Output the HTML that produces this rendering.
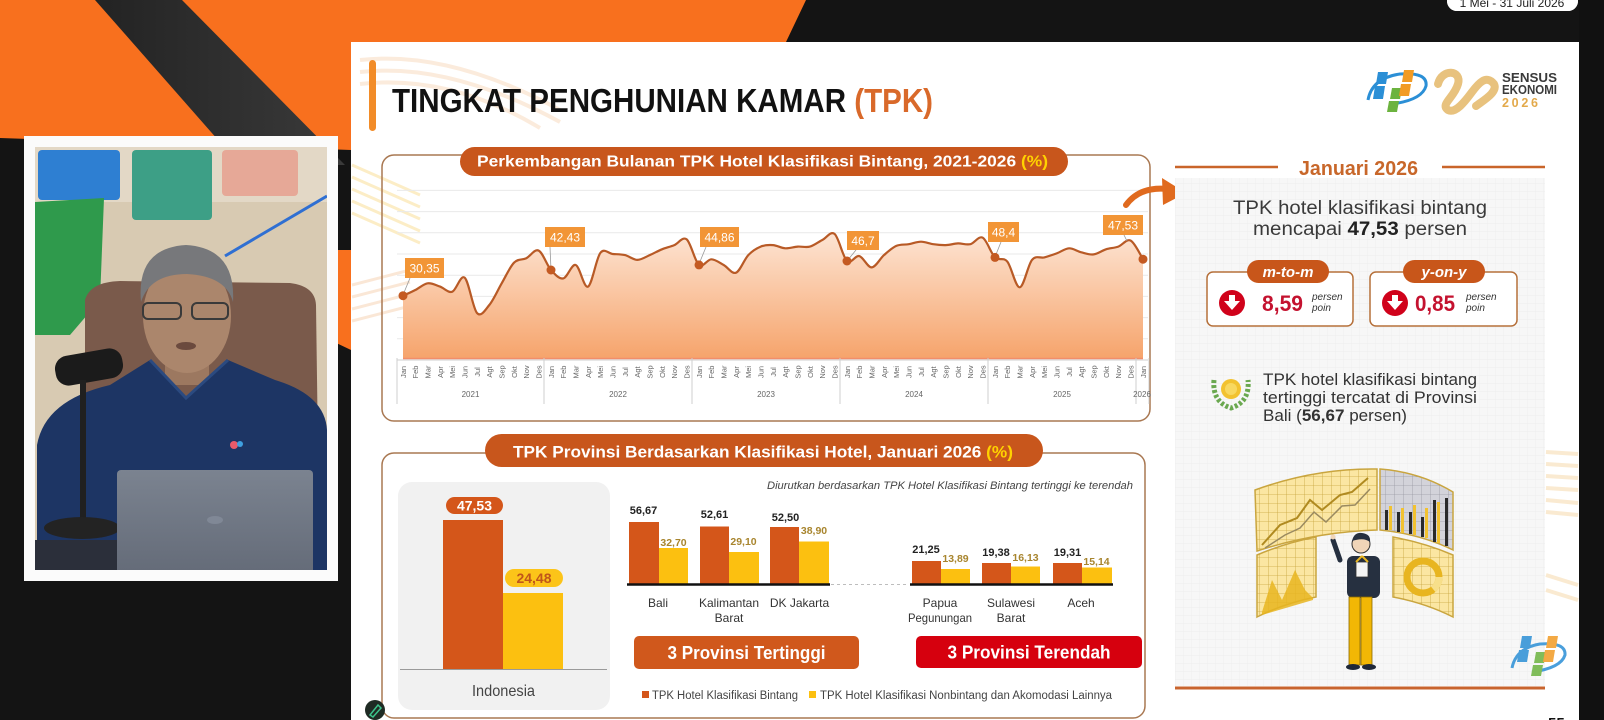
<!DOCTYPE html>
<html><head><meta charset="utf-8">
<style>
html,body{margin:0;padding:0;width:1604px;height:720px;overflow:hidden;background:#141414;}
svg{display:block;font-family:"Liberation Sans",Arial,sans-serif;}
</style></head><body>
<svg width="1604" height="720" viewBox="0 0 1604 720" xmlns="http://www.w3.org/2000/svg">
<defs>
 <linearGradient id="area" gradientUnits="userSpaceOnUse" x1="0" y1="230" x2="0" y2="360">
  <stop offset="0" stop-color="#fde6d6"/><stop offset="1" stop-color="#f6a36a"/>
 </linearGradient>
 <linearGradient id="band" x1="0" y1="0" x2="1" y2="0">
  <stop offset="0" stop-color="#232323"/><stop offset="1" stop-color="#3a3a3a"/>
 </linearGradient>
 <linearGradient id="lap" x1="0" y1="0" x2="0" y2="1">
  <stop offset="0" stop-color="#7b8390"/><stop offset="1" stop-color="#646b78"/>
 </linearGradient>
 <pattern id="grid" width="8" height="8" patternUnits="userSpaceOnUse">
  <rect width="8" height="8" fill="#f7f7f7"/><path d="M8 0V8H0" fill="none" stroke="#ececec" stroke-width="0.7"/>
 </pattern>
 <pattern id="ygrid" width="9" height="9" patternUnits="userSpaceOnUse">
  <rect width="9" height="9" fill="#fbe6a2"/><path d="M9 0V9H0" fill="none" stroke="#c9a53f" stroke-width="0.8"/>
 </pattern>
 <pattern id="ggrid" width="9" height="9" patternUnits="userSpaceOnUse">
  <rect width="9" height="9" fill="#d3d3da"/><path d="M9 0V9H0" fill="none" stroke="#9a9aa5" stroke-width="0.8"/>
 </pattern>
 <clipPath id="cam"><rect x="35" y="147" width="292" height="423"/></clipPath>
</defs>

<!-- background -->
<rect width="1604" height="720" fill="#141414"/>
<polygon points="0,0 806,0 786,42 351,42 351,150 0,138" fill="#f8701e"/>
<polygon points="95,0 182,0 345,165 240,165" fill="url(#band)"/>
<polygon points="330,250 351,250 351,350 330,340" fill="#f8701e"/>

<!-- top right date pill -->
<rect x="1447" y="-10" width="131" height="21" rx="10" fill="#ffffff"/>
<text x="1512" y="7" font-size="12" text-anchor="middle" fill="#222">1 Mei - 31 Juli 2026</text>

<!-- webcam -->
<rect x="24" y="136" width="314" height="445" fill="#fbfbfb"/>
<g clip-path="url(#cam)">
 <rect x="35" y="147" width="292" height="423" fill="#d8cab2"/>
 <rect x="35" y="147" width="292" height="55" fill="#e3d8c6"/>
 <rect x="38" y="150" width="82" height="50" rx="4" fill="#2e7fd2"/>
 <rect x="132" y="150" width="80" height="70" rx="4" fill="#3d9f86"/>
 <rect x="222" y="150" width="76" height="46" rx="4" fill="#e6a897"/>
 <polygon points="35,202 104,198 100,300 70,335 35,335" fill="#2f9a4c"/>
 <line x1="225" y1="256" x2="327" y2="196" stroke="#2f6fd2" stroke-width="3"/>
 <path d="M85,300 Q90,282 120,281 L290,283 Q315,286 316,305 L318,450 L85,450 Z" fill="#7a5a4b"/>
 <rect x="165" y="345" width="44" height="40" fill="#9c7860"/>
 <ellipse cx="187" cy="316" rx="44" ry="57" fill="#ab866c"/>
 <path d="M141,302 Q136,248 186,245 Q236,248 233,302 Q226,276 187,274 Q150,274 141,302 Z" fill="#77787b"/>
 <rect x="143" y="303" width="38" height="16" rx="5" fill="none" stroke="#3a3a3a" stroke-width="2"/>
 <rect x="192" y="303" width="36" height="16" rx="5" fill="none" stroke="#3a3a3a" stroke-width="2"/>
 <ellipse cx="186" cy="346" rx="10" ry="4" fill="#6b4a3e"/>
 <path d="M37,445 Q45,400 110,385 L150,360 L186,398 L228,360 L275,380 Q325,395 327,430 L327,570 L37,570 Z" fill="#1d3564"/>
 <path d="M150,360 L186,398 L228,360" fill="none" stroke="#2b4a80" stroke-width="3"/>
 <rect x="55" y="352" width="68" height="30" rx="13" fill="#1b1b1b" transform="rotate(-10 89 367)"/>
 <rect x="80" y="380" width="6" height="145" fill="#202020"/>
 <ellipse cx="82" cy="528" rx="38" ry="11" fill="#232323"/>
 <rect x="35" y="540" width="82" height="30" fill="#2b2f3a"/>
 <rect x="117" y="470" width="196" height="105" rx="4" fill="url(#lap)"/>
 <ellipse cx="215" cy="520" rx="8" ry="4" fill="#808896"/>
 <circle cx="234" cy="445" r="4" fill="#e85a6a"/><circle cx="240" cy="444" r="3" fill="#3fa0e0"/>
</g>

<!-- slide -->
<rect x="351" y="42" width="1228" height="678" fill="#ffffff"/>

<!-- faint decorations -->
<g fill="none" stroke="#f9dcc0" stroke-width="4" opacity="0.55">
 <path d="M360,60 Q450,50 560,110"/><path d="M360,72 Q450,62 560,122"/><path d="M360,84 Q450,74 540,128"/>
</g>
<g stroke="#fbe6ae" stroke-width="3" opacity="0.7">
 <line x1="352" y1="165" x2="420" y2="195"/><line x1="352" y1="177" x2="420" y2="207"/><line x1="352" y1="189" x2="420" y2="219"/>
 <line x1="352" y1="201" x2="420" y2="231"/><line x1="352" y1="213" x2="420" y2="243"/>
</g>
<g stroke="#f9ddc6" stroke-width="3" opacity="0.7">
 <line x1="352" y1="285" x2="410" y2="270"/><line x1="352" y1="297" x2="410" y2="282"/><line x1="352" y1="309" x2="410" y2="294"/>
 <line x1="352" y1="321" x2="410" y2="306"/>
</g>
<g stroke="#fae6c6" stroke-width="4" opacity="0.8">
 <line x1="1546" y1="452" x2="1578" y2="454"/><line x1="1546" y1="464" x2="1578" y2="466"/><line x1="1546" y1="476" x2="1578" y2="478"/>
 <line x1="1546" y1="488" x2="1578" y2="490"/><line x1="1546" y1="500" x2="1578" y2="503"/><line x1="1546" y1="512" x2="1578" y2="515"/>
 <line x1="1546" y1="575" x2="1578" y2="585"/><line x1="1546" y1="590" x2="1578" y2="600"/>
</g>

<!-- title -->
<rect x="369" y="60" width="7" height="71" rx="3.5" fill="#f28c28"/>
<text x="392" y="112" font-size="33" font-weight="bold" textLength="541" lengthAdjust="spacingAndGlyphs" fill="#111">TINGKAT PENGHUNIAN KAMAR <tspan fill="#d9692a">(TPK)</tspan></text>

<!-- top logos -->
<g>
 <path d="M1368,100 Q1372,78 1400,74 Q1428,72 1426,86 Q1422,100 1392,104" fill="none" stroke="#2b8fd6" stroke-width="3"/>
 <polygon points="1378,72 1388,72 1386,84 1376,84" fill="#2b8fd6"/>
 <polygon points="1375,86 1385,86 1383,99 1373,99" fill="#2b8fd6"/>
 <polygon points="1392,88 1402,88 1400,99 1390,99" fill="#6cb33f"/>
 <polygon points="1389,101 1399,101 1397,112 1387,112" fill="#6cb33f"/>
 <polygon points="1404,70 1414,70 1412,82 1402,82" fill="#f29b24"/>
 <polygon points="1401,84 1411,84 1409,96 1399,96" fill="#f29b24"/>
</g>
<path d="M1438,84 C1442,68 1462,70 1458,84 C1454,98 1440,104 1448,110 C1456,114 1466,100 1472,92 C1478,84 1486,74 1494,84 C1498,92 1484,100 1476,106" fill="none" stroke="#e8c27e" stroke-width="8" stroke-linecap="round"/>
<text x="1502" y="82" font-size="12.5" font-weight="bold" fill="#3a3a3a" textLength="55" lengthAdjust="spacingAndGlyphs">SENSUS</text>
<text x="1502" y="94" font-size="12.5" font-weight="bold" fill="#3a3a3a" textLength="55" lengthAdjust="spacingAndGlyphs">EKONOMI</text>
<text x="1502" y="107" font-size="12.5" font-weight="bold" fill="#e3a94a" textLength="36" lengthAdjust="spacing">2026</text>

<!-- ========== chart 1 ========== -->
<rect x="382" y="155" width="768" height="266" rx="12" fill="none" stroke="#a97852" stroke-width="1.5"/>
<g stroke="#e9e9e9" stroke-width="1">
 <line x1="397" y1="190.4" x2="1148" y2="190.4"/><line x1="397" y1="211.6" x2="1148" y2="211.6"/>
 <line x1="397" y1="232.8" x2="1148" y2="232.8"/><line x1="397" y1="254" x2="1148" y2="254"/>
 <line x1="397" y1="275.2" x2="1148" y2="275.2"/><line x1="397" y1="296.4" x2="1148" y2="296.4"/>
 <line x1="397" y1="317.6" x2="1148" y2="317.6"/><line x1="397" y1="338.8" x2="1148" y2="338.8"/>
</g>
<path id="areaPath" fill="url(#area)" d="M403,295.7 L415.3,290 L427.7,283.3 L440,286.6 L452.3,291.7 L464.7,277.7 L477,313 L489.3,305 L501.7,283.3 L514,262.7 L526.3,258.2 L538.7,250.6 L551,270 L563.3,278.4 L575.7,265 L588,286.6 L600.3,253 L612.7,254 L625,255.1 L637.3,259.9 L649.7,255.1 L662,249.3 L674.3,245.1 L686.7,239.4 L699,264.9 L711.3,259.3 L723.7,265 L736,272.7 L748.3,255.1 L760.7,246.6 L773,245.1 L785.3,248.3 L797.7,246.6 L810,246.6 L822.3,240 L834.7,234.1 L847,261 L859.3,256.1 L871.7,267.4 L884,255.1 L896.3,245.9 L908.7,244.2 L921,241.7 L933.3,244.2 L945.7,245.1 L958,243.4 L970.3,244.2 L982.7,237.7 L995,257.4 L1007.3,261.6 L1019.7,287.3 L1032,259.9 L1044.3,257.4 L1056.7,253.4 L1069,248.3 L1081.3,252.3 L1093.7,254.4 L1106,249.3 L1118.3,246.6 L1130.7,240.6 L1143,259.2 L1143,359 L403,359 Z"/>
<line x1="403" y1="358.5" x2="1143" y2="358.5" stroke="#f28e6a" stroke-width="1.5"/>
<path id="linePath" fill="none" stroke="#b85a26" stroke-width="2.2" stroke-linejoin="round" d="M403,295.7 L415.3,290 L427.7,283.3 L440,286.6 L452.3,291.7 L464.7,277.7 L477,313 L489.3,305 L501.7,283.3 L514,262.7 L526.3,258.2 L538.7,250.6 L551,270 L563.3,278.4 L575.7,265 L588,286.6 L600.3,253 L612.7,254 L625,255.1 L637.3,259.9 L649.7,255.1 L662,249.3 L674.3,245.1 L686.7,239.4 L699,264.9 L711.3,259.3 L723.7,265 L736,272.7 L748.3,255.1 L760.7,246.6 L773,245.1 L785.3,248.3 L797.7,246.6 L810,246.6 L822.3,240 L834.7,234.1 L847,261 L859.3,256.1 L871.7,267.4 L884,255.1 L896.3,245.9 L908.7,244.2 L921,241.7 L933.3,244.2 L945.7,245.1 L958,243.4 L970.3,244.2 L982.7,237.7 L995,257.4 L1007.3,261.6 L1019.7,287.3 L1032,259.9 L1044.3,257.4 L1056.7,253.4 L1069,248.3 L1081.3,252.3 L1093.7,254.4 L1106,249.3 L1118.3,246.6 L1130.7,240.6 L1143,259.2"/>

<!-- axis -->
<line x1="397" y1="360" x2="1148" y2="360" stroke="#cfcfcf" stroke-width="1"/>
<g stroke="#cfcfcf" stroke-width="1">
 <line x1="397" y1="358" x2="397" y2="404"/><line x1="544" y1="358" x2="544" y2="404"/>
 <line x1="692" y1="358" x2="692" y2="404"/><line x1="840" y1="358" x2="840" y2="404"/>
 <line x1="988" y1="358" x2="988" y2="404"/><line x1="1136" y1="358" x2="1136" y2="404"/>
 <line x1="1149" y1="358" x2="1149" y2="404"/>
</g>
<g font-size="7.5" fill="#666" text-anchor="middle">
<text transform="translate(405.8,372) rotate(-90)">Jan</text><text transform="translate(418.1,372) rotate(-90)">Feb</text><text transform="translate(430.5,372) rotate(-90)">Mar</text><text transform="translate(442.8,372) rotate(-90)">Apr</text><text transform="translate(455.1,372) rotate(-90)">Mei</text><text transform="translate(467.5,372) rotate(-90)">Jun</text><text transform="translate(479.8,372) rotate(-90)">Jul</text><text transform="translate(492.1,372) rotate(-90)">Agt</text><text transform="translate(504.5,372) rotate(-90)">Sep</text><text transform="translate(516.8,372) rotate(-90)">Okt</text><text transform="translate(529.1,372) rotate(-90)">Nov</text><text transform="translate(541.5,372) rotate(-90)">Des</text>
<text transform="translate(553.8,372) rotate(-90)">Jan</text><text transform="translate(566.1,372) rotate(-90)">Feb</text><text transform="translate(578.5,372) rotate(-90)">Mar</text><text transform="translate(590.8,372) rotate(-90)">Apr</text><text transform="translate(603.1,372) rotate(-90)">Mei</text><text transform="translate(615.5,372) rotate(-90)">Jun</text><text transform="translate(627.8,372) rotate(-90)">Jul</text><text transform="translate(640.1,372) rotate(-90)">Agt</text><text transform="translate(652.5,372) rotate(-90)">Sep</text><text transform="translate(664.8,372) rotate(-90)">Okt</text><text transform="translate(677.1,372) rotate(-90)">Nov</text><text transform="translate(689.5,372) rotate(-90)">Des</text>
<text transform="translate(701.8,372) rotate(-90)">Jan</text><text transform="translate(714.1,372) rotate(-90)">Feb</text><text transform="translate(726.5,372) rotate(-90)">Mar</text><text transform="translate(738.8,372) rotate(-90)">Apr</text><text transform="translate(751.1,372) rotate(-90)">Mei</text><text transform="translate(763.5,372) rotate(-90)">Jun</text><text transform="translate(775.8,372) rotate(-90)">Jul</text><text transform="translate(788.1,372) rotate(-90)">Agt</text><text transform="translate(800.5,372) rotate(-90)">Sep</text><text transform="translate(812.8,372) rotate(-90)">Okt</text><text transform="translate(825.1,372) rotate(-90)">Nov</text><text transform="translate(837.5,372) rotate(-90)">Des</text>
<text transform="translate(849.8,372) rotate(-90)">Jan</text><text transform="translate(862.1,372) rotate(-90)">Feb</text><text transform="translate(874.5,372) rotate(-90)">Mar</text><text transform="translate(886.8,372) rotate(-90)">Apr</text><text transform="translate(899.1,372) rotate(-90)">Mei</text><text transform="translate(911.5,372) rotate(-90)">Jun</text><text transform="translate(923.8,372) rotate(-90)">Jul</text><text transform="translate(936.1,372) rotate(-90)">Agt</text><text transform="translate(948.5,372) rotate(-90)">Sep</text><text transform="translate(960.8,372) rotate(-90)">Okt</text><text transform="translate(973.1,372) rotate(-90)">Nov</text><text transform="translate(985.5,372) rotate(-90)">Des</text>
<text transform="translate(997.8,372) rotate(-90)">Jan</text><text transform="translate(1010.1,372) rotate(-90)">Feb</text><text transform="translate(1022.5,372) rotate(-90)">Mar</text><text transform="translate(1034.8,372) rotate(-90)">Apr</text><text transform="translate(1047.1,372) rotate(-90)">Mei</text><text transform="translate(1059.5,372) rotate(-90)">Jun</text><text transform="translate(1071.8,372) rotate(-90)">Jul</text><text transform="translate(1084.1,372) rotate(-90)">Agt</text><text transform="translate(1096.5,372) rotate(-90)">Sep</text><text transform="translate(1108.8,372) rotate(-90)">Okt</text><text transform="translate(1121.1,372) rotate(-90)">Nov</text><text transform="translate(1133.5,372) rotate(-90)">Des</text>
<text transform="translate(1145.8,372) rotate(-90)">Jan</text>
</g>
<g font-size="8" fill="#666" text-anchor="middle">
 <text x="470.5" y="397">2021</text><text x="618" y="397">2022</text><text x="766" y="397">2023</text>
 <text x="914" y="397">2024</text><text x="1062" y="397">2025</text><text x="1142" y="397">2026</text>
</g>

<!-- leaders & markers -->
<g stroke="#9a9a9a" stroke-width="0.8">
 <line x1="410" y1="278" x2="403" y2="295"/><line x1="550" y1="247" x2="551" y2="270"/>
 <line x1="706" y1="247" x2="699" y2="264"/><line x1="856" y1="250" x2="847" y2="261"/>
 <line x1="1001" y1="242" x2="995" y2="257"/><line x1="1124" y1="235" x2="1127" y2="241"/>
</g>
<g fill="#c45a22">
 <circle cx="403" cy="295.7" r="4.5"/><circle cx="551" cy="270" r="4.5"/><circle cx="699" cy="264.9" r="4.5"/>
 <circle cx="847" cy="261" r="4.5"/><circle cx="995" cy="257.4" r="4.5"/><circle cx="1143" cy="259.2" r="4.5"/>
</g>
<g fill="#f29536">
 <rect x="405" y="258" width="39" height="20"/><rect x="545" y="227" width="40" height="20"/>
 <rect x="700" y="227" width="39" height="20"/><rect x="847" y="231" width="32" height="19"/>
 <rect x="988" y="222" width="31" height="20"/><rect x="1103" y="215" width="40" height="20"/>
</g>
<g font-size="12" fill="#fff" text-anchor="middle">
 <text x="424.5" y="272.5">30,35</text><text x="565" y="241.5">42,43</text><text x="719.5" y="241.5">44,86</text>
 <text x="863" y="245">46,7</text><text x="1003.5" y="236.5">48,4</text><text x="1123" y="229.5">47,53</text>
</g>

<!-- pill 1 -->
<rect x="460" y="147" width="608" height="29" rx="14.5" fill="#c8561c"/>
<text x="477" y="166.5" font-size="16" font-weight="bold" fill="#fff" textLength="571" lengthAdjust="spacingAndGlyphs">Perkembangan Bulanan TPK Hotel Klasifikasi Bintang, 2021-2026 <tspan fill="#ffd200">(%)</tspan></text>

<!-- arrow -->
<path d="M1126,205 Q1140,186 1168,189" fill="none" stroke="#e06a1e" stroke-width="6" stroke-linecap="round"/>
<polygon points="1162,178 1186,193 1163,205" fill="#e06a1e"/>

<!-- ========== chart 2 ========== -->
<rect x="382" y="453" width="763" height="265" rx="12" fill="none" stroke="#a97852" stroke-width="1.5"/>
<rect x="485" y="434" width="558" height="33" rx="16.5" fill="#c8561c"/>
<text x="513" y="457.5" font-size="17" font-weight="bold" fill="#fff" textLength="500" lengthAdjust="spacingAndGlyphs">TPK Provinsi Berdasarkan Klasifikasi Hotel, Januari 2026 <tspan fill="#ffd200">(%)</tspan></text>

<!-- Indonesia panel -->
<rect x="398" y="482" width="212" height="228" rx="14" fill="#f1f1f1"/>
<rect x="443" y="520" width="60" height="149" fill="#d4561a"/>
<rect x="503" y="593" width="60" height="76" fill="#fcc010"/>
<line x1="400" y1="669.5" x2="607" y2="669.5" stroke="#9a9a9a" stroke-width="1"/>
<rect x="446" y="497" width="57" height="17" rx="8.5" fill="#d4561a"/>
<text x="474.5" y="510.5" font-size="14" font-weight="bold" fill="#fff" text-anchor="middle">47,53</text>
<rect x="505" y="569" width="58" height="18" rx="9" fill="#fcc419"/>
<text x="534" y="583" font-size="14" font-weight="bold" fill="#c0561a" text-anchor="middle">24,48</text>
<text x="503.5" y="696" font-size="16" fill="#444" text-anchor="middle" textLength="63" lengthAdjust="spacingAndGlyphs">Indonesia</text>

<text x="767" y="489" font-size="11" font-style="italic" fill="#444" textLength="366" lengthAdjust="spacingAndGlyphs">Diurutkan berdasarkan TPK Hotel Klasifikasi Bintang tertinggi ke terendah</text>

<!-- top provinces -->
<g fill="#d4561a">
 <rect x="629" y="522" width="30" height="62"/><rect x="700" y="526.5" width="29" height="57.5"/><rect x="770" y="527" width="29" height="57"/>
 <rect x="912" y="561" width="29" height="23"/><rect x="982" y="563" width="29" height="21"/><rect x="1053" y="563" width="29" height="21"/>
</g>
<g fill="#fcc010">
 <rect x="659" y="548" width="29" height="36"/><rect x="729" y="552" width="30" height="32"/><rect x="799" y="541.5" width="30" height="42.5"/>
 <rect x="941" y="569" width="29" height="15"/><rect x="1011" y="566.5" width="29" height="17.5"/><rect x="1082" y="567.5" width="30" height="16.5"/>
</g>
<line x1="627" y1="584.5" x2="830" y2="584.5" stroke="#111" stroke-width="2.5"/>
<line x1="910" y1="584.5" x2="1113" y2="584.5" stroke="#111" stroke-width="2.5"/>
<line x1="831" y1="584.5" x2="909" y2="584.5" stroke="#bdbdbd" stroke-width="1" stroke-dasharray="3,3"/>
<g font-size="11" font-weight="bold" fill="#222" text-anchor="middle">
 <text x="643.5" y="514">56,67</text><text x="714.5" y="518">52,61</text><text x="785.5" y="521">52,50</text>
 <text x="926" y="553">21,25</text><text x="996" y="556">19,38</text><text x="1067.5" y="556">19,31</text>
</g>
<g font-size="10.5" font-weight="bold" fill="#a8852e" text-anchor="middle">
 <text x="673.5" y="546">32,70</text><text x="743.5" y="545">29,10</text><text x="814" y="534">38,90</text>
 <text x="955.5" y="562">13,89</text><text x="1025.5" y="561">16,13</text><text x="1096.5" y="565">15,14</text>
</g>
<g font-size="12" fill="#333" text-anchor="middle">
 <text x="658" y="607">Bali</text>
 <text x="729" y="607">Kalimantan</text><text x="729" y="622">Barat</text>
 <text x="799.5" y="607">DK Jakarta</text>
 <text x="940" y="607">Papua</text><text x="940" y="622" textLength="64" lengthAdjust="spacingAndGlyphs">Pegunungan</text>
 <text x="1011" y="607">Sulawesi</text><text x="1011" y="622">Barat</text>
 <text x="1081" y="607">Aceh</text>
</g>

<rect x="634" y="636" width="225" height="33" rx="5" fill="#d0581c"/>
<text x="746.5" y="659" font-size="18" font-weight="bold" fill="#fff" text-anchor="middle" textLength="158" lengthAdjust="spacingAndGlyphs">3 Provinsi Tertinggi</text>
<rect x="916" y="636" width="226" height="32" rx="5" fill="#d6000e"/>
<text x="1029" y="658.5" font-size="18" font-weight="bold" fill="#fff" text-anchor="middle" textLength="163" lengthAdjust="spacingAndGlyphs">3 Provinsi Terendah</text>

<rect x="642" y="691" width="7" height="7" fill="#d4561a"/>
<text x="652" y="699" font-size="11.5" fill="#444" textLength="146" lengthAdjust="spacingAndGlyphs">TPK Hotel Klasifikasi Bintang</text>
<rect x="809" y="691" width="7" height="7" fill="#fcc010"/>
<text x="820" y="699" font-size="11.5" fill="#444" textLength="292" lengthAdjust="spacingAndGlyphs">TPK Hotel Klasifikasi Nonbintang dan Akomodasi Lainnya</text>

<!-- pencil icon -->
<circle cx="375" cy="710" r="10" fill="#1f2b24"/>
<path d="M370,715 L378,705 L381,708 L373,717 Z" fill="none" stroke="#3cc28a" stroke-width="1.5"/>

<!-- ========== right panel ========== -->
<rect x="1175" y="178" width="370" height="508" fill="url(#grid)"/>
<line x1="1175" y1="167" x2="1278" y2="167" stroke="#c9652a" stroke-width="2.5"/>
<line x1="1442" y1="167" x2="1545" y2="167" stroke="#c9652a" stroke-width="2.5"/>
<text x="1358.5" y="175" font-size="20" font-weight="bold" fill="#c8672a" text-anchor="middle" textLength="119" lengthAdjust="spacingAndGlyphs">Januari 2026</text>
<text x="1360" y="214" font-size="19" fill="#3a3a3a" text-anchor="middle" textLength="254" lengthAdjust="spacingAndGlyphs">TPK hotel klasifikasi bintang</text>
<text x="1360" y="235" font-size="19" fill="#3a3a3a" text-anchor="middle" textLength="214" lengthAdjust="spacingAndGlyphs">mencapai <tspan font-weight="bold" fill="#222">47,53</tspan> persen</text>

<rect x="1207" y="272" width="146" height="54" rx="6" fill="#fff" stroke="#b5703a" stroke-width="1.5"/>
<rect x="1247" y="260" width="82" height="23" rx="11.5" fill="#c8561a"/>
<text x="1288" y="277" font-size="15" font-style="italic" font-weight="bold" fill="#fff" text-anchor="middle">m-to-m</text>
<g transform="translate(1232,303)"><circle r="13" fill="#d0021b"/><path d="M-3,-8 h6 v6 h5 l-8,9 l-8,-9 h5 z" fill="#fff"/></g>
<text x="1262" y="311" font-size="22" font-weight="bold" fill="#c4122f" textLength="41" lengthAdjust="spacingAndGlyphs">8,59</text>
<text x="1312" y="300" font-size="10" font-style="italic" fill="#333">persen</text>
<text x="1312" y="311" font-size="10" font-style="italic" fill="#333">poin</text>

<rect x="1370" y="272" width="147" height="54" rx="6" fill="#fff" stroke="#b5703a" stroke-width="1.5"/>
<rect x="1403" y="260" width="82" height="23" rx="11.5" fill="#c8561a"/>
<text x="1444" y="277" font-size="15" font-style="italic" font-weight="bold" fill="#fff" text-anchor="middle">y-on-y</text>
<g transform="translate(1395,303)"><circle r="13" fill="#d0021b"/><path d="M-3,-8 h6 v6 h5 l-8,9 l-8,-9 h5 z" fill="#fff"/></g>
<text x="1415" y="311" font-size="22" font-weight="bold" fill="#c4122f" textLength="40" lengthAdjust="spacingAndGlyphs">0,85</text>
<text x="1466" y="300" font-size="10" font-style="italic" fill="#333">persen</text>
<text x="1466" y="311" font-size="10" font-style="italic" fill="#333">poin</text>

<!-- medal -->
<path d="M1214,380 Q1212,402 1231,408 Q1250,402 1248,380" fill="none" stroke="#6aa84f" stroke-width="5" stroke-dasharray="3,2"/>
<circle cx="1231" cy="389" r="10" fill="#f2c230"/>
<circle cx="1231" cy="389" r="6" fill="#f8d860"/>
<text x="1263" y="385" font-size="17" fill="#333" textLength="214" lengthAdjust="spacingAndGlyphs">TPK hotel klasifikasi bintang</text>
<text x="1263" y="403" font-size="17" fill="#333" textLength="214" lengthAdjust="spacingAndGlyphs">tertinggi tercatat di Provinsi</text>
<text x="1263" y="421" font-size="17" fill="#333" textLength="144" lengthAdjust="spacingAndGlyphs">Bali (<tspan font-weight="bold">56,67</tspan> persen)</text>

<!-- illustration -->
<path d="M1255,490 Q1315,468 1377,469 L1377,530 Q1315,532 1257,551 Z" fill="url(#ygrid)" stroke="#c9a53f" stroke-width="1.5"/>
<polyline points="1262,545 1280,525 1297,518 1310,500 1322,510 1340,495 1352,492 1368,478" fill="none" stroke="#b08a20" stroke-width="2"/>
<polyline points="1265,548 1285,535 1300,528 1314,512 1326,522 1342,506 1355,505 1370,489" fill="none" stroke="#9a8a60" stroke-width="1.5"/>
<path d="M1380,469 Q1420,472 1453,492 L1453,550 Q1420,534 1380,530 Z" fill="url(#ggrid)" stroke="#c9a53f" stroke-width="1.5"/>
<g fill="#2a2a2a"><rect x="1385" y="510" width="3" height="20"/><rect x="1397" y="512" width="3" height="20"/><rect x="1409" y="512" width="3" height="22"/><rect x="1421" y="517" width="3" height="20"/><rect x="1433" y="500" width="3" height="42"/><rect x="1445" y="498" width="3" height="48"/></g>
<g fill="#f2c230"><rect x="1389" y="506" width="3" height="24"/><rect x="1401" y="508" width="3" height="25"/><rect x="1413" y="505" width="3" height="30"/><rect x="1425" y="508" width="3" height="30"/><rect x="1437" y="502" width="3" height="41"/></g>
<path d="M1257,555 Q1285,543 1316,537 L1316,597 Q1285,603 1257,617 Z" fill="url(#ygrid)" stroke="#c9a53f" stroke-width="1.5"/>
<polygon points="1262,612 1272,580 1282,600 1295,570 1305,590 1313,598 1313,600 1262,615" fill="#e8b520" opacity="0.85"/>
<path d="M1393,537 Q1425,543 1453,555 L1453,617 Q1425,603 1393,597 Z" fill="url(#ygrid)" stroke="#c9a53f" stroke-width="1.5"/>
<circle cx="1423" cy="577" r="16" fill="none" stroke="#e8b520" stroke-width="7"/>
<circle cx="1423" cy="577" r="16" fill="none" stroke="#f7df8a" stroke-width="7" stroke-dasharray="14,100"/>
<!-- person -->
<path d="M1340,560 L1333,540" stroke="#263040" stroke-width="5" stroke-linecap="round"/>
<circle cx="1333" cy="537" r="2.5" fill="#f0d5b8"/>
<rect x="1347" y="556" width="33" height="42" rx="6" fill="#263040"/>
<rect x="1356" y="562" width="12" height="15" fill="#f4f4f4" stroke="#333" stroke-width="0.8"/>
<path d="M1362,556 L1356,562 M1362,556 L1368,562" stroke="#e8b520" stroke-width="2"/>
<circle cx="1361" cy="544" r="9" fill="#f0d5b8" stroke="#333" stroke-width="1"/>
<path d="M1352,541 Q1354,532 1362,533 Q1371,534 1370,542 Q1364,537 1352,541 Z" fill="#263040"/>
<rect x="1349" y="597" width="11" height="68" fill="#f2b705" stroke="#8a6a00" stroke-width="0.8"/>
<rect x="1361" y="597" width="11" height="68" fill="#f2b705" stroke="#8a6a00" stroke-width="0.8"/>
<ellipse cx="1353" cy="667" rx="7" ry="3" fill="#1f2838"/>
<ellipse cx="1369" cy="667" rx="7" ry="3" fill="#1f2838"/>

<line x1="1175" y1="688" x2="1545" y2="688" stroke="#c8642e" stroke-width="3"/>

<!-- small BPS logo -->
<g opacity="0.85">
 <path d="M1512,668 Q1516,648 1540,644 Q1566,642 1565,655 Q1561,668 1532,672" fill="none" stroke="#2b8fd6" stroke-width="3"/>
 <polygon points="1522,636 1532,636 1530,648 1520,648" fill="#2b8fd6"/>
 <polygon points="1519,650 1529,650 1527,662 1517,662" fill="#2b8fd6"/>
 <polygon points="1536,652 1546,652 1544,663 1534,663" fill="#6cb33f"/>
 <polygon points="1533,665 1543,665 1541,676 1531,676" fill="#6cb33f"/>
 <polygon points="1548,636 1558,636 1556,648 1546,648" fill="#f29b24"/>
 <polygon points="1545,650 1555,650 1553,662 1543,662" fill="#f29b24"/>
</g>
<text x="1548" y="728" font-size="15" font-weight="bold" fill="#111">55</text>

<!-- right black edge -->
<rect x="1579" y="0" width="25" height="720" fill="#111"/>
<rect x="1447" y="-10" width="131" height="21" rx="10" fill="#ffffff"/>
<text x="1512" y="7" font-size="12" text-anchor="middle" fill="#222">1 Mei - 31 Juli 2026</text>
</svg>
<script>
(function(){
 var lp=document.getElementById('linePath');
 var ap=document.getElementById('areaPath');
 if(!lp||!ap)return;
 var nums=lp.getAttribute('d').match(/-?[\d.]+/g).map(Number);
 var pts=[];for(var i=0;i<nums.length;i+=2)pts.push([nums[i],nums[i+1]]);
 var d='M'+pts[0][0]+','+pts[0][1];
 for(var k=0;k<pts.length-1;k++){
  var p0=pts[k-1]||pts[k],p1=pts[k],p2=pts[k+1],p3=pts[k+2]||p2;
  var c1x=p1[0]+(p2[0]-p0[0])/6,c1y=p1[1]+(p2[1]-p0[1])/6;
  var c2x=p2[0]-(p3[0]-p1[0])/6,c2y=p2[1]-(p3[1]-p1[1])/6;
  d+=' C'+c1x.toFixed(1)+','+c1y.toFixed(1)+' '+c2x.toFixed(1)+','+c2y.toFixed(1)+' '+p2[0]+','+p2[1];
 }
 lp.setAttribute('d',d);
 ap.setAttribute('d',d+' L1143,359 L403,359 Z');
})();
</script>
</body></html>
